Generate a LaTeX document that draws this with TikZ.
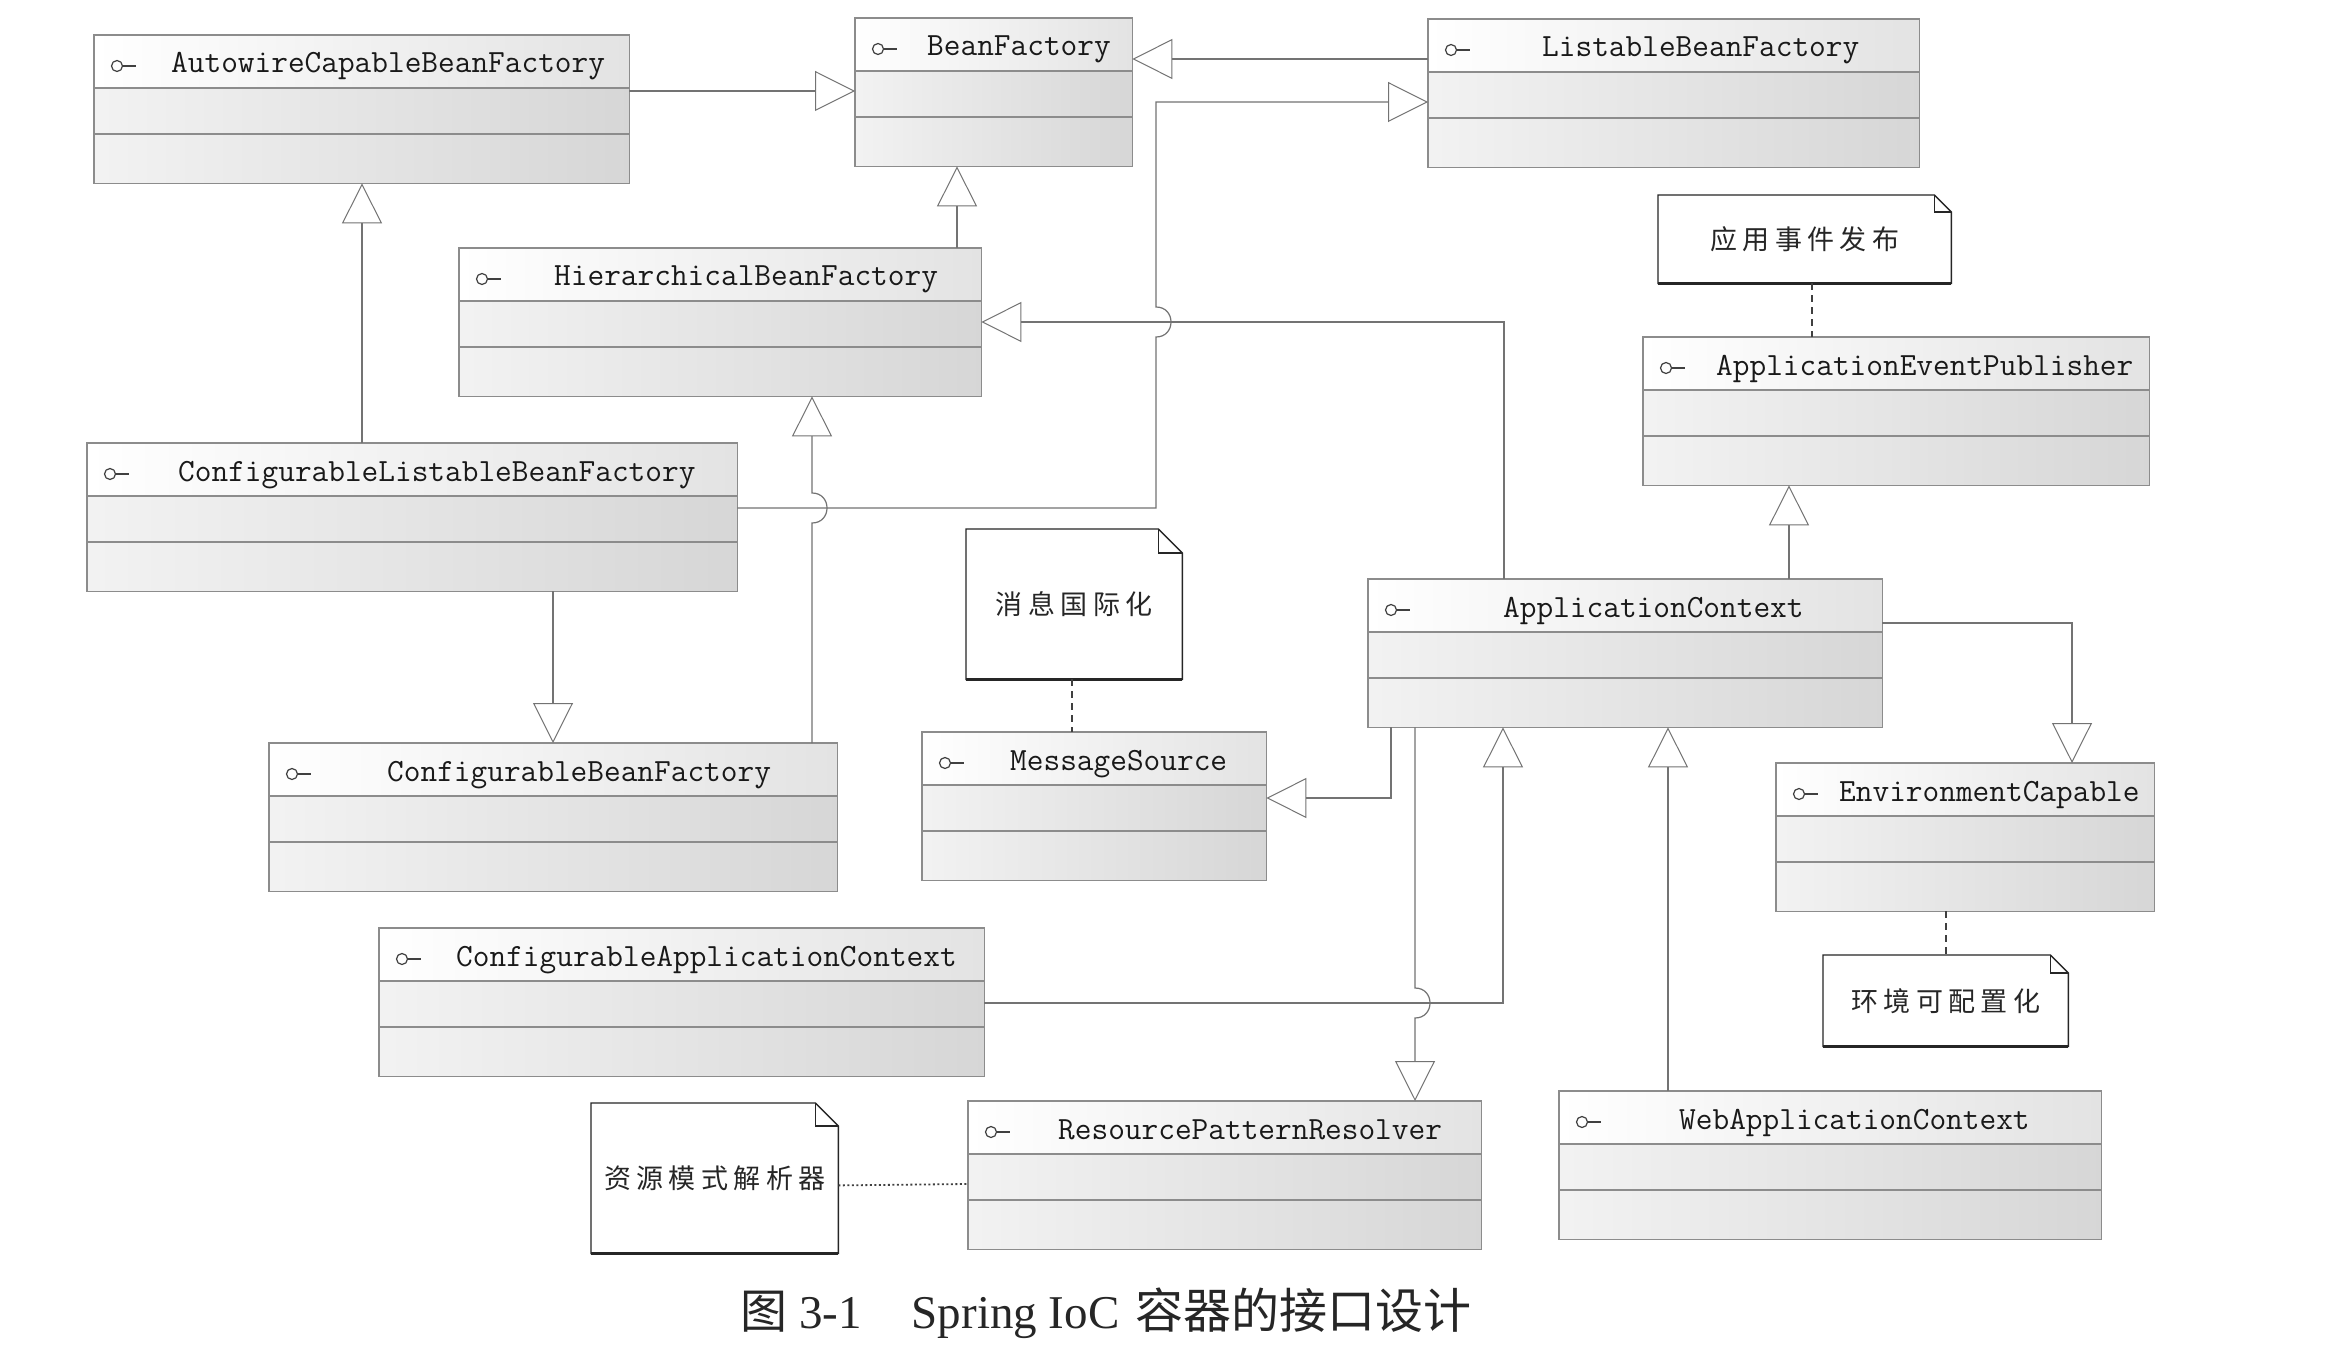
\documentclass[tikz,border=0pt]{standalone}
\usepackage{fontspec}
\setmainfont{Liberation Serif}
\newfontfamily\cjk{Noto Sans CJK SC}
\newfontfamily\cjknote[LetterSpace=20]{Noto Sans CJK SC}
\usetikzlibrary{arrows.meta,calc}

\tikzset{
  box/.style={rectangle, inner sep=0pt, minimum height=148pt, left color=black!5, right color=black!16, draw=none},
  boxborder/.style={draw=black!45, line width=1.4pt},
  divline/.style={draw=black!45, line width=2pt},
  icon/.style={draw=black!75, line width=1.2pt},
  classname/.style={anchor=base west, inner sep=0pt, text=black!90, font=\ttfamily\fontsize{32.4}{36}\selectfont},
  real/.style={draw=black!55, line width=1.2pt, -{Triangle[open, length=40pt, width=40pt, line width=1pt]}},
  notebody/.style={inner sep=0pt, anchor=north west, fill=white, text=black!85, font=\cjknote\fontsize{27}{30}\selectfont},
  noteline/.style={draw=black!85, line width=1.4pt},
  notelink/.style={draw=black!75, line width=1.3pt, dash pattern=on 7pt off 5pt},
  notedot/.style={draw=black!75, line width=1.8pt, dash pattern=on 2pt off 2.5pt},
}

% name, left, top, width, text offset, label
\newcommand\umlbox[6]{%
  \node[box, minimum width=#4pt, anchor=north west] (#1) at (#2,#3) {};
  \fill[left color=white, right color=black!11] (#1.north west) rectangle ($(#1.north east)+(0,53)$);
  \draw[divline] ($(#1.north west)+(0,53)$) -- ($(#1.north east)+(0,53)$);
  \draw[divline] ($(#1.north west)+(0,99)$) -- ($(#1.north east)+(0,99)$);
  \draw[boxborder] (#1.north west) rectangle (#1.south east);
  \draw[icon] ($(#1.north west)+(23,31)$) circle[radius=5.5];
  \draw[icon] ($(#1.north west)+(28.5,31)$) -- ($(#1.north west)+(42,31)$);
  \node[classname] at ($(#1.north west)+(#5,38)$) {#6};
}

% name, left, top, width, height, fold, text
\newcommand\umlnote[7]{%
  \node[notebody, minimum width=#4pt, minimum height=#5pt] (#1) at (#2,#3) {#7};
  \draw[noteline] (#1.north west) -- ($(#1.north east)+(-#6,0)$) -- ($(#1.north east)+(0,#6)$) -- (#1.south east) -- (#1.south west) -- cycle;
  \draw[noteline] ($(#1.north east)+(-#6,0)$) -- ($(#1.north east)+(-#6,#6)$) -- ($(#1.north east)+(0,#6)$);
  \draw[draw=black!85, line width=3pt] (#1.south west) -- (#1.south east);
}

\begin{document}
\begin{tikzpicture}[x=1pt, y=-1pt]
\fill[white] (0,0) rectangle (2330,1356);
\useasboundingbox (0,0) rectangle (2330,1356);

% classes
\umlbox{auto}{94}{35}{535}{77}{AutowireCapableBeanFactory}
\umlbox{bf}{855}{18}{277}{72}{BeanFactory}
\umlbox{lbf}{1428}{19}{491}{114}{ListableBeanFactory}
\umlbox{hbf}{459}{248}{522}{95}{HierarchicalBeanFactory}
\umlbox{clbf}{87}{443}{650}{91}{ConfigurableListableBeanFactory}
\umlbox{cbf}{269}{743}{568}{118}{ConfigurableBeanFactory}
\umlbox{ms}{922}{732}{344}{88}{MessageSource}
\umlbox{ac}{1368}{579}{514}{135}{ApplicationContext}
\umlbox{aep}{1643}{337}{506}{73}{ApplicationEventPublisher}
\umlbox{ec}{1776}{763}{378}{63}{EnvironmentCapable}
\umlbox{cac}{379}{928}{605}{77}{ConfigurableApplicationContext}
\umlbox{rpr}{968}{1101}{513}{90}{ResourcePatternResolver}
\umlbox{wac}{1559}{1091}{542}{120}{WebApplicationContext}

% notes
\umlnote{n1}{1658}{195}{293}{88}{17}{应用事件发布}
\umlnote{n2}{966}{529}{216}{150}{24}{消息国际化}
\umlnote{n3}{1823}{955}{245}{91}{18}{环境可配置化}
\umlnote{n4}{591}{1103}{247}{150}{23}{资源模式解析器}

% realizations
\draw[real] ($(auto.north east)+(0,56)$) -- ($(bf.north west)+(0,73)$);
\draw[real] ($(lbf.north west)+(0,40)$) -- ($(bf.north east)+(0,41)$);
\draw[real] ($(hbf.north west)+(498,0)$) -- ($(bf.south west)+(102,0)$);
\draw[real] ($(clbf.north west)+(275,0)$) -- ($(auto.south west)+(268,0)$);
\draw[real] ($(clbf.north east)+(0,65)$) -- (1156,508) -- (1156,337)
   .. controls (1176,337) and (1176,307) .. (1156,307) -- (1156,102) -- ($(lbf.north west)+(0,83)$);
\draw[real] ($(cbf.north west)+(543,0)$) -- (812,523)
   .. controls (832,523) and (832,493) .. (812,493) -- ($(hbf.south west)+(353,0)$);
\draw[real] ($(clbf.south west)+(466,0)$) -- ($(cbf.north west)+(284,0)$);
\draw[real] ($(ac.north west)+(136,0)$) |- ($(hbf.north east)+(0,74)$);
\draw[real] ($(ac.north west)+(421,0)$) -- ($(aep.south west)+(146,0)$);
\draw[real] ($(ac.north east)+(0,44)$) -| ($(ec.north west)+(296,0)$);
\draw[real] ($(ac.south west)+(23,0)$) |- ($(ms.north east)+(0,66)$);
\draw[real] ($(cac.north east)+(0,75)$) -| ($(ac.south west)+(135,0)$);
\draw[real] ($(ac.south west)+(47,0)$) -- (1415,988)
   .. controls (1435,988) and (1435,1018) .. (1415,1018) -- ($(rpr.north west)+(447,0)$);
\draw[real] ($(wac.north west)+(109,0)$) -- ($(ac.south west)+(300,0)$);

% note links
\draw[notelink] ($(n1.south west)+(154,0)$) -- ($(aep.north west)+(169,0)$);
\draw[notelink] ($(n2.south west)+(106,0)$) -- ($(ms.north west)+(150,0)$);
\draw[notelink] ($(ec.south west)+(170,0)$) -- ($(n3.north west)+(123,0)$);
\draw[notedot] ($(n4.south east)+(0,-68)$) -- ($(rpr.north west)+(0,83)$);

% caption
\node[anchor=base west, inner sep=0pt, text=black!85] (cap) at (740,1328)
  {\fontsize{47}{52}\selectfont{\cjk 图}\hspace{12pt}3-1\hspace{50pt}Spring IoC\hspace{16pt}{\fontsize{48}{52}\selectfont\cjk 容器的接口设计}};
\end{tikzpicture}
\end{document}
